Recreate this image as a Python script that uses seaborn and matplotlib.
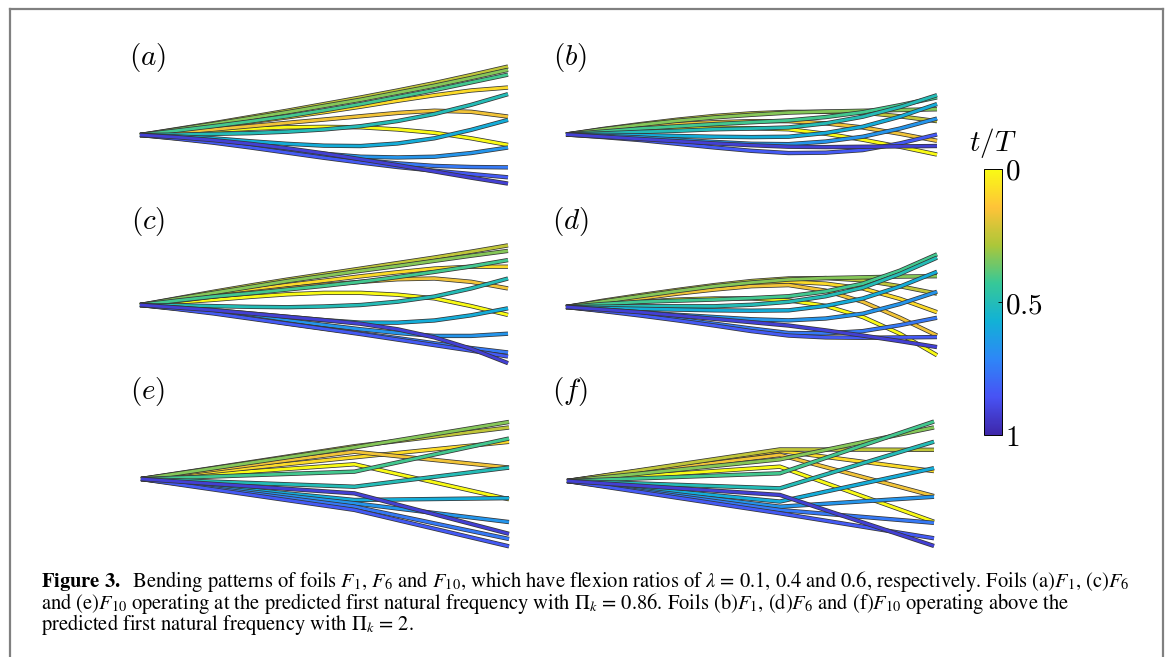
import numpy as np
import pandas as pd
import matplotlib
matplotlib.use("Agg")
import matplotlib.pyplot as plt
import seaborn as sns
import matplotlib.patheffects as pe
from matplotlib.colors import LinearSegmentedColormap, Normalize
from matplotlib.cm import ScalarMappable
from matplotlib.lines import Line2D

plt.rcParams["mathtext.fontset"] = "cm"

# ---------------- data (deflection in % of chord, x = position along chord) -------------
x_fine = [0.0, 0.1, 0.2, 0.3, 0.4, 0.5, 0.6, 0.7, 0.8, 0.9, 1.0]
x_hinged = [0.0, 0.58, 1.0]

t_twelve = [0.0, 0.083, 0.167, 0.25, 0.333, 0.417, 0.5, 0.583, 0.667, 0.75, 0.833, 0.917]

t_a = t_twelve
y_a = [
    [0, 0.6, 1.2, 1.7, 2.1, 2.2, 2.1, 1.5, 0.6, -0.9, -2.7],
    [0, 1.1, 2.3, 3.5, 4.8, 6.2, 7.7, 9.3, 10.8, 12.1, 12.9],
    [0, 0.7, 1.5, 2.4, 3.3, 4.2, 5.1, 6.0, 6.6, 6.3, 5.0],
    [0, 1.6, 3.2, 4.9, 6.6, 8.4, 10.2, 12.1, 14.1, 16.3, 18.6],
    [0, 1.5, 3.0, 4.6, 6.2, 7.9, 9.6, 11.5, 13.4, 15.5, 17.7],
    [0, 1.2, 2.4, 3.7, 5.1, 6.7, 8.4, 10.3, 12.2, 14.3, 16.4],
    [0, 0.1, 0.3, 0.5, 0.9, 1.5, 2.4, 3.8, 5.7, 8.2, 11.1],
    [0, -0.4, -0.9, -1.7, -2.4, -2.9, -3.0, -2.3, -0.9, 1.4, 4.1],
    [0, -0.7, -1.5, -2.8, -4.1, -5.1, -5.9, -6.1, -5.9, -4.9, -3.4],
    [0, -0.9, -1.9, -3.1, -4.4, -5.6, -6.8, -7.7, -8.4, -8.7, -8.8],
    [0, -1.0, -2.1, -3.4, -4.8, -6.2, -7.5, -8.7, -9.7, -10.6, -11.5],
    [0, -0.6, -1.4, -2.4, -3.6, -5.0, -6.6, -8.2, -9.9, -11.6, -13.2],
]

t_b = [0.0, 0.167, 0.25, 0.333, 0.417, 0.5, 0.583, 0.667, 0.833, 0.917]
y_b = [
    [0, 0.7, 1.2, 1.6, 1.8, 1.7, 1.4, 0.2, -1.4, -3.3, -5.4],
    [0, 1.1, 2.1, 2.8, 3.3, 3.6, 3.6, 3.0, 1.9, 0.2, -1.7],
    [0, 1.5, 2.8, 4.0, 5.0, 5.7, 6.1, 6.1, 5.9, 4.9, 3.6],
    [0, 1.4, 2.6, 3.7, 4.6, 5.3, 5.9, 6.2, 6.4, 6.6, 6.8],
    [0, 0.8, 1.6, 2.2, 2.8, 3.3, 3.8, 4.7, 6.0, 7.9, 10.0],
    [0, 0.3, 0.7, 1.0, 1.4, 1.6, 1.9, 3.0, 4.8, 7.4, 10.6],
    [0, -0.1, -0.2, -0.4, -0.6, -0.7, -0.6, 0.4, 2.1, 4.8, 8.2],
    [0, -0.4, -0.8, -1.4, -2.0, -2.5, -2.6, -1.9, -0.6, 1.6, 4.3],
    [0, -0.7, -1.5, -2.5, -3.5, -4.4, -5.0, -4.9, -4.2, -2.4, 0.0],
    [0, -0.6, -1.2, -1.8, -2.4, -2.9, -3.3, -3.4, -3.3, -3.2, -3.1],
]

t_c = t_twelve
y_c = [
    [0, 0.7, 1.4, 2.2, 2.9, 3.3, 3.3, 2.8, 1.8, -0.3, -2.7],
    [0, 1.3, 2.7, 4.1, 5.4, 6.6, 7.8, 8.9, 9.9, 10.4, 10.4],
    [0, 1.1, 2.3, 3.4, 4.5, 5.5, 6.3, 7.0, 7.2, 6.3, 4.5],
    [0, 1.8, 3.6, 5.3, 6.9, 8.4, 9.9, 11.4, 12.9, 14.5, 16.2],
    [0, 1.7, 3.3, 4.9, 6.5, 7.9, 9.3, 10.6, 12.0, 13.4, 14.7],
    [0, 1.2, 2.3, 3.2, 4.2, 5.2, 6.3, 7.6, 9.0, 10.5, 12.2],
    [0, -0.1, -0.3, -0.5, -0.6, -0.4, 0.0, 0.9, 2.3, 4.5, 7.2],
    [0, -0.7, -1.4, -2.3, -3.2, -4.1, -4.8, -4.8, -4.2, -2.8, -0.9],
    [0, -0.9, -1.8, -3.0, -4.2, -5.4, -6.6, -7.6, -8.4, -8.4, -7.8],
    [0, -1.0, -2.1, -3.5, -5.0, -6.4, -7.7, -9.0, -10.4, -11.7, -12.9],
    [0, -1.1, -2.3, -3.7, -5.1, -6.5, -7.9, -9.4, -10.9, -12.4, -14.0],
    [0, -0.7, -1.4, -2.3, -3.2, -4.1, -5.1, -6.6, -8.8, -11.9, -15.8],
]

t_d = t_twelve
y_d = [
    [0, 0.8, 1.4, 2.0, 2.3, 2.3, 1.8, 0.3, -2.7, -7.2, -13.0],
    [0, 1.4, 2.7, 4.1, 5.4, 6.3, 6.8, 6.3, 5.0, 2.2, -1.4],
    [0, 1.1, 2.3, 3.6, 4.7, 5.6, 5.9, 4.4, 1.4, -2.9, -7.7],
    [0, 1.7, 3.2, 4.6, 5.9, 7.0, 7.7, 7.8, 7.2, 5.6, 3.6],
    [0, 1.5, 2.9, 4.3, 5.6, 6.6, 7.4, 7.8, 8.0, 8.2, 8.3],
    [0, 0.8, 1.4, 1.7, 2.0, 2.4, 2.9, 4.2, 6.3, 9.8, 14.2],
    [0, 0.1, 0.2, 0.2, 0.2, 0.6, 1.4, 2.9, 5.2, 8.9, 13.3],
    [0, -0.3, -0.5, -0.7, -0.9, -1.0, -0.9, 0.3, 2.3, 5.5, 9.5],
    [0, -0.7, -1.4, -2.1, -2.7, -3.3, -3.6, -3.1, -1.8, 0.8, 4.1],
    [0, -1.0, -2.0, -3.2, -4.5, -5.8, -7.0, -7.1, -6.5, -4.9, -2.9],
    [0, -1.1, -2.3, -3.6, -5.0, -6.5, -7.7, -8.2, -8.3, -8.2, -8.1],
    [0, -0.7, -1.4, -2.3, -3.2, -4.1, -5.0, -6.3, -7.7, -9.2, -10.8],
]

t_e = t_twelve
y_e = [
    [0, 4.0, -5.5],
    [0, 5.9, 10.1],
    [0, 7.4, 3.1],
    [0, 8.9, 14.0],
    [0, 8.6, 15.5],
    [0, 2.0, 11.0],
    [0, -2.1, 3.1],
    [0, -5.7, -5.2],
    [0, -6.6, -11.7],
    [0, -7.5, -16.3],
    [0, -8.4, -18.3],
    [0, -3.9, -14.9],
]

t_f = t_twelve
y_f = [
    [0, 3.9, -11.1],
    [0, 8.2, 2.7],
    [0, 7.1, -4.1],
    [0, 8.6, 8.5],
    [0, 5.9, 14.6],
    [0, 2.1, 16.2],
    [0, -2.0, 10.7],
    [0, -5.6, 3.5],
    [0, -7.0, -4.3],
    [0, -7.9, -11.4],
    [0, -8.8, -15.6],
    [0, -3.8, -17.7],
]

panel_labels = ["a", "b", "c", "d", "e", "f"]
cbar_ticks = [0, 0.5, 1]
cbar_ticklabels = ["$0$", "$0.5$", "$1$"]

caption_line1 = (r"$\mathbf{Figure\ 3.}$  Bending patterns of foils $F_1$, $F_6$ and $F_{10}$, "
                 r"which have flexion ratios of $\lambda$ = 0.1, 0.4 and 0.6, respectively. "
                 r"Foils (a)$F_1$, (c)$F_6$")
caption_line2 = (r"and (e)$F_{10}$ operating at the predicted first natural frequency with $\Pi_k$ = 0.86. "
                 r"Foils (b)$F_1$, (d)$F_6$ and (f)$F_{10}$ operating above the")
caption_line3 = r"predicted first natural frequency with $\Pi_k$ = 2."

# ---------------- style ----------------
parula_anchors = [
    (0.2422, 0.1504, 0.6603),
    (0.2810, 0.3228, 0.9579),
    (0.1786, 0.5289, 0.9682),
    (0.0689, 0.6948, 0.8394),
    (0.2161, 0.7843, 0.5923),
    (0.6720, 0.7793, 0.2227),
    (0.9970, 0.7659, 0.2199),
    (0.9769, 0.9839, 0.0805),
]
cmap = LinearSegmentedColormap.from_list("parula_rev", parula_anchors[::-1])

W, H = 1168, 657
fig = plt.figure(figsize=(W / 100, H / 100), dpi=100)
fig.patch.set_facecolor("white")

# panel layout: (origin x px, origin y px, chord px, label centre x, label centre y)
layout = {
    "a": (140, 135, 368, 148, 58),
    "b": (566, 134.5, 371, 570, 57),
    "c": (140, 305, 368, 148, 221),
    "d": (566, 307, 371, 570, 221),
    "e": (141, 479, 368, 148, 392),
    "f": (567, 481, 367, 570, 392),
}
panel_data = {
    "a": (x_fine, t_a, y_a),
    "b": (x_fine, t_b, y_b),
    "c": (x_fine, t_c, y_c),
    "d": (x_fine, t_d, y_d),
    "e": (x_hinged, t_e, y_e),
    "f": (x_hinged, t_f, y_f),
}

XL = (-0.05, 1.05)
YL = (-22, 22)

for key in panel_labels:
    xs, ts, ys = panel_data[key]
    ox, oy, L, lx, ly = layout[key]
    rows = []
    for i, (tv, yv) in enumerate(zip(ts, ys)):
        for xv, yy in zip(xs, yv):
            rows.append({"curve": i, "t": tv, "x": xv, "y": yy})
    df = pd.DataFrame(rows)

    left = ox + XL[0] * L
    width = (XL[1] - XL[0]) * L
    scale = L / 100.0
    top = oy - YL[1] * scale
    height = (YL[1] - YL[0]) * scale
    ax = fig.add_axes([left / W, 1 - (top + height) / H, width / W, height / H])
    sns.lineplot(data=df, x="x", y="y", hue="t", units="curve", estimator=None,
                 sort=False, palette=cmap, hue_norm=(0, 1), legend=False, ax=ax,
                 linewidth=2.0)
    for ln in ax.lines:
        ln.set_solid_joinstyle("round")
        ln.set_solid_capstyle("butt")
        ln.set_path_effects([pe.Stroke(linewidth=3.1, foreground="#353535"), pe.Normal()])
    ax.set_xlim(*XL)
    ax.set_ylim(*YL)
    ax.axis("off")

    fig.text(lx / W, 1 - ly / H, f"$({key})$", fontsize=21, ha="center", va="center")

# ---------------- colorbar ----------------
cax = fig.add_axes([984 / W, 1 - 435 / H, 18 / W, 266 / H])
sm = ScalarMappable(norm=Normalize(0, 1), cmap=cmap)
cb = fig.colorbar(sm, cax=cax, ticks=cbar_ticks)
cb.set_ticklabels(cbar_ticklabels)
cax.invert_yaxis()
cax.tick_params(labelsize=21, direction="in", length=3, width=0.6, pad=2, colors="black")
cb.outline.set_linewidth(0.7)
fig.text(993 / W, 1 - 143 / H, "$t/T$", fontsize=21, ha="center", va="center")

# ---------------- border ----------------
border_kw = dict(color="#808080", linewidth=1.6, transform=fig.transFigure, solid_capstyle="projecting")
fig.add_artist(Line2D([10 / W, 10 / W], [0, 1 - 9 / H], **border_kw))
fig.add_artist(Line2D([10 / W, 1163 / W], [1 - 9 / H, 1 - 9 / H], **border_kw))
fig.add_artist(Line2D([1163 / W, 1163 / W], [0, 1 - 9 / H], **border_kw))

# ---------------- caption (one multi-line text) ----------------
cap_x = 41
first_baseline = 587
baseline_span = 43.0   # first to third baseline, px
target_width = 1087.0
caption = "\n".join([caption_line1, caption_line2, caption_line3])
cap_kw = dict(family="STIXGeneral", math_fontfamily="stix", ha="left")


def bbox_of(text, **kw):
    t = fig.text(cap_x / W, 0.5, text, **cap_kw, **kw)
    fig.canvas.draw()
    bb = t.get_window_extent(fig.canvas.get_renderer())
    t.remove()
    return bb


fs = 13.0
bb = bbox_of(caption_line1, fontsize=fs, va="baseline")
fs = fs * target_width / bb.width

bb1 = bbox_of(caption_line1, fontsize=fs, va="baseline")
bb3 = bbox_of(caption_line3, fontsize=fs, va="baseline")
asc1 = bb1.y1 - 0.5 * H
desc3 = 0.5 * H - bb3.y0
target_h = asc1 + baseline_span + desc3

lo, hi = 0.6, 2.2
for _ in range(25):
    mid = 0.5 * (lo + hi)
    h = bbox_of(caption, fontsize=fs, va="top", linespacing=mid).height
    if h < target_h:
        lo = mid
    else:
        hi = mid
ls = 0.5 * (lo + hi)

fig.text(cap_x / W, (H - first_baseline + asc1) / H, caption, fontsize=fs,
         va="top", linespacing=ls, **cap_kw)

fig.savefig("out.png", dpi=100, facecolor="white")
